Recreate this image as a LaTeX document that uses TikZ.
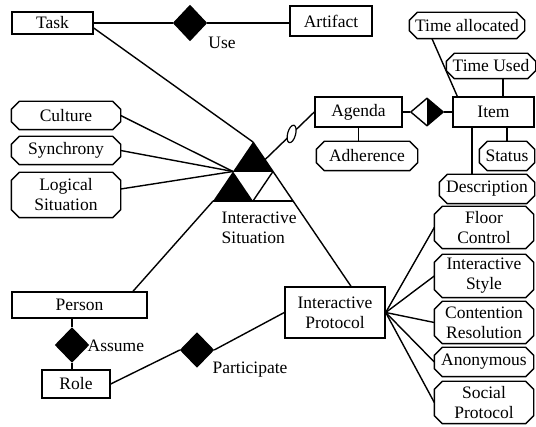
\documentclass[tikz,border=0pt]{standalone}
\usepackage{fontspec}
\setmainfont{Liberation Serif}
\usetikzlibrary{shapes.geometric,calc}
\newcommand{\drawoct}[2][8]{%
  \draw ($(#2.north west)+(#1,0)$) -- ($(#2.north east)+(-#1,0)$) --
        ($(#2.north east)+(0,#1)$) -- ($(#2.south east)+(0,-#1)$) --
        ($(#2.south east)+(-#1,0)$) -- ($(#2.south west)+(#1,0)$) --
        ($(#2.south west)+(0,-#1)$) -- ($(#2.north west)+(0,#1)$) -- cycle;}
\begin{document}
\begin{tikzpicture}[x=1pt,y=-1pt,line width=1.4pt,
  every node/.style={font=\rmfamily\fontsize{17.5}{20}\selectfont,inner sep=0pt},
  ent/.style={draw,rectangle,fill=white,align=center},
  attr/.style={rectangle,align=center},
  rel/.style={draw,diamond,fill=black,minimum width=33pt,minimum height=35pt},
  lbl/.style={align=left}]
\useasboundingbox (0,0) rectangle (536,427);
% entities
\node[ent,minimum width=81pt,minimum height=22pt] (task) at (52.5,23) {Task};
\node[ent,minimum width=82pt,minimum height=30pt] (artifact) at (331,21) {Artifact};
\node[ent,minimum width=87pt,minimum height=30pt] (agenda) at (358.5,112) {Agenda};
\node[ent,minimum width=81pt,minimum height=30pt] (item) at (493.5,112) {Item};
\node[ent,minimum width=135pt,minimum height=26pt] (person) at (79.5,305) {Person};
\node[ent,minimum width=68pt,minimum height=28pt] (role) at (76,384) {Role};
\node[ent,minimum width=100pt,minimum height=51pt] (protocol) at (335,312.5) {Interactive\\Protocol};
% attributes
\node[attr,minimum width=114pt,minimum height=25pt] (timealloc) at (467,25.5) {Time allocated};
\node[attr,minimum width=88pt,minimum height=24pt] (timeused) at (491,66) {Time Used};
\node[attr,minimum width=100pt,minimum height=28pt] (adherence) at (367,156) {Adherence};
\node[attr,minimum width=54pt,minimum height=28pt] (status) at (507,156) {Status};
\node[attr,minimum width=94pt,minimum height=28pt] (description) at (487,189) {Description};
\node[attr,minimum width=108pt,minimum height=27pt] (culture) at (66,115.5) {Culture};
\node[attr,minimum width=108pt,minimum height=27pt] (synchrony) at (66,150.5) {Synchrony};
\node[attr,minimum width=108pt,minimum height=44pt] (logical) at (66,195) {Logical\\Situation};
\node[attr,minimum width=98pt,minimum height=41pt] (floor) at (484,227.5) {Floor\\Control};
\node[attr,minimum width=98pt,minimum height=42pt] (style) at (484,276) {Interactive\\Style};
\node[attr,minimum width=98pt,minimum height=41pt] (contention) at (484,322.5) {Contention\\Resolution};
\node[attr,minimum width=98pt,minimum height=28pt] (anonymous) at (484,362) {Anonymous};
\node[attr,minimum width=98pt,minimum height=41pt] (social) at (484,402.5) {Social\\Protocol};
\foreach \n in {timealloc,timeused,adherence,status,description,culture,synchrony,logical,floor,style,contention,anonymous,social}{\drawoct{\n}}
% relationships
\node[rel] (use) at (190,23) {};
\node[rel,minimum height=34pt] (assume) at (72,345) {};
\node[rel,minimum height=34pt] (participate) at (197,350) {};
\node[draw,diamond,fill=white,minimum width=33pt,minimum height=28pt,
  path picture={\fill[black] (path picture bounding box.north) -- (path picture bounding box.east) -- (path picture bounding box.south) -- cycle;}] (dd) at (427,112) {};
% triangle (interactive situation)
\coordinate (A) at (253,142);
\coordinate (BL) at (213.1,201);
\coordinate (BR) at (292.9,201);
\coordinate (ML) at ($(A)!0.5!(BL)$);
\coordinate (MR) at ($(A)!0.5!(BR)$);
\coordinate (MB) at ($(BL)!0.5!(BR)$);
\coordinate (P) at ($(protocol.north)+(16,0)$);
\coordinate (E) at ($(A)!0.3!(BR)$);
\fill (A) -- (ML) -- (MR) -- cycle;
\fill (ML) -- (BL) -- (MB) -- cycle;
\draw (BL) -- (BR);
\draw (MR) -- (MB);
\draw (ML) -- (MR);
\draw (A) -- (P);
\node[lbl,anchor=north west] (situation) at (221,211) {Interactive\\Situation};
% connectors
\draw (task.east) -- (use.west);
\draw (use.east) -- (use.east -| artifact.west);
\node (uselbl) at (222,43) {Use};
\draw ($(task.east)+(0,5)$) -- (A);
\draw (culture.east) -- (ML);
\draw (synchrony.east) -- (ML);
\draw ($(logical.east)+(0,-6)$) -- (ML);
\draw ($(person.north)+(53.5,0)$) -- (BL);
\draw (agenda.west) -- (E);
\node[draw,ellipse,fill=white,minimum width=8pt,minimum height=18pt,rotate=-15,line width=1.2pt] (ring) at ($(agenda.west)!0.46!(E)$) {};
\draw (agenda.east) -- (dd.west);
\draw (dd.east) -- (item.west);
\draw (agenda.south) -- (agenda.south |- adherence.north);
\draw ($(timealloc.south)+(-35,0)$) -- ($(item.north west)+(5,0)$);
\draw ($(timeused.south)+(12,0)$) coordinate (tu) -- (tu |- item.north);
\draw (status.north) -- (status.north |- item.south);
\draw ($(description.north)+(-15,0)$) coordinate (dn) -- (dn |- item.south);
\draw (protocol.east) -- (floor.west);
\draw (protocol.east) -- (style.west);
\draw (protocol.east) -- (contention.west);
\draw (protocol.east) -- (anonymous.west);
\draw (protocol.east) -- (social.west);
\draw (assume.north) -- (assume.north |- person.south);
\draw (assume.south) -- (assume.south |- role.north);
\node[anchor=west] (assumelbl) at (87,346) {Assume};
\draw (role.east) -- (participate.west);
\draw (participate.east) -- (protocol.west);
\node (partlbl) at (250,370) {Participate};
\end{tikzpicture}
\end{document}
